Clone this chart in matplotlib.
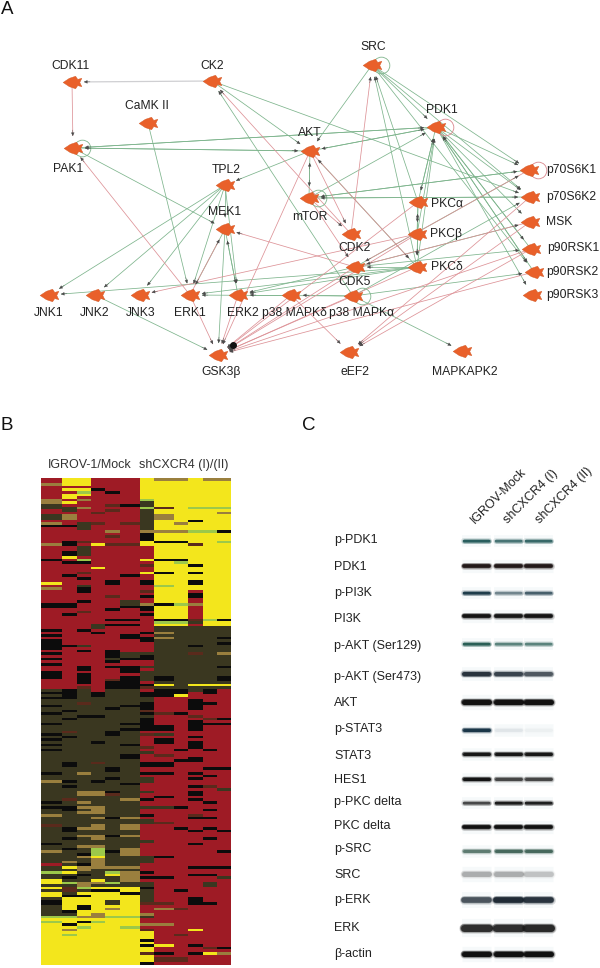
"""Three-panel figure: kinase network, expression heatmap, western blots."""

import matplotlib.pyplot as plt
import numpy as np
from matplotlib.colors import ListedColormap
from matplotlib.path import Path

plt.rcParams["font.family"] = ["Liberation Sans", "DejaVu Sans"]

# --- panel A: network, pixel positions
NODE_NAMES = ["CDK11", "CK2", "CaMK", "PAK1", "TPL2", "MEK1", "AKT", "SRC", "PDK1", "mTOR",
              "S6K1", "S6K2", "MSK", "RSK1", "RSK2", "RSK3", "PKCa", "PKCb", "PKCd", "CDK2",
              "CDK5", "JNK1", "JNK2", "JNK3", "ERK1", "ERK2", "p38d", "p38a", "GSK3b", "eEF2", "MK2"]
NODE_X = [72, 212, 148, 73, 225, 225, 310, 372, 436, 309,
          529, 530, 530, 531, 534, 532, 418, 417, 417, 351,
          355, 49, 95, 140, 190, 238, 291, 353, 218, 349, 462]
NODE_Y = [82, 81, 123, 148, 185, 229, 151, 65, 127, 198,
          170, 197, 222, 249, 272, 295, 202, 234, 267, 234,
          267, 295, 295, 295, 295, 295, 295, 296, 355, 352, 351]
LABELS = ["CDK11", "CK2", "CaMK II", "PAK1", "TPL2", "MEK1", "AKT", "SRC", "PDK1", "mTOR",
          "p70S6K1", "p70S6K2", "MSK", "p90RSK1", "p90RSK2", "p90RSK3", "PKCα", "PKCβ", "PKCδ", "CDK2",
          "CDK5", "JNK1", "JNK2", "JNK3", "ERK1", "ERK2", "p38 MAPKδ", "p38 MAPKα", "GSK3β", "eEF2", "MAPKAPK2"]
LABEL_X = [70, 212, 147, 68, 226, 225, 310, 373, 442, 310,
           546, 546, 546, 547, 546, 546, 431, 430, 431, 355,
           355, 49, 95, 141, 190, 243, 294, 362, 221, 355, 465]
LABEL_Y = [66, 66, 106, 169, 170, 212, 133, 47, 110, 217,
           170, 197, 222, 248, 272, 295, 204, 234, 267, 248,
           282, 313, 313, 313, 313, 313, 313, 313, 372, 372, 372]
LEFT_ALIGNED = {"S6K1", "S6K2", "MSK", "RSK1", "RSK2", "RSK3", "PKCa", "PKCb", "PKCd"}

GREY_EDGES = [("CK2", "CDK11")]
GREEN_EDGES = [
    ("CK2", "AKT"), ("CK2", "S6K2"), ("p38a", "CK2"), ("AKT", "PAK1"), ("PDK1", "PAK1"),
    ("PAK1", "AKT"), ("PAK1", "PDK1"), ("PAK1", "MEK1"), ("CaMK", "ERK1"), ("AKT", "TPL2"),
    ("TPL2", "JNK1"), ("TPL2", "JNK2"), ("TPL2", "JNK3"), ("TPL2", "MEK1"), ("TPL2", "ERK1"),
    ("TPL2", "ERK2"), ("MEK1", "ERK1"), ("MEK1", "ERK2"), ("MEK1", "GSK3b"), ("JNK2", "GSK3b"),
    ("PKCd", "JNK1"), ("PKCd", "ERK1"), ("PKCd", "ERK2"), ("SRC", "AKT"), ("PDK1", "AKT"),
    ("AKT", "PDK1"), ("mTOR", "PDK1"), ("SRC", "PDK1"), ("SRC", "S6K1"), ("SRC", "S6K2"),
    ("SRC", "RSK2"), ("PKCa", "SRC"), ("PKCd", "SRC"), ("PDK1", "PKCa"), ("PKCa", "PDK1"),
    ("PKCb", "PDK1"), ("PKCd", "PDK1"), ("PDK1", "S6K1"), ("PDK1", "S6K2"), ("PDK1", "MSK"),
    ("PDK1", "RSK1"), ("PDK1", "RSK2"), ("PDK1", "RSK3"), ("RSK1", "PDK1"), ("RSK2", "PDK1"),
    ("AKT", "mTOR"), ("mTOR", "AKT"), ("mTOR", "S6K1"), ("mTOR", "S6K2"), ("S6K2", "mTOR"),
    ("S6K1", "mTOR"), ("PKCd", "AKT"), ("PKCa", "PKCb"), ("PKCb", "PKCa"), ("PKCb", "PKCd"),
    ("PKCa", "PKCd"), ("PKCd", "CDK5"), ("CDK5", "RSK1"), ("CDK5", "MSK"), ("p38a", "RSK2"),
    ("p38a", "S6K2"), ("p38a", "MK2"), ("p38d", "ERK2"), ("p38a", "p38d"), ("p38a", "ERK1"),
    ("CDK5", "ERK2"), ("CDK5", "S6K1"), ("ERK2", "MEK1"),
]
RED_EDGES = [
    ("CDK11", "PAK1"), ("CDK2", "CK2"), ("ERK1", "PAK1"), ("ERK1", "MEK1"), ("ERK1", "GSK3b"),
    ("ERK2", "GSK3b"), ("p38d", "GSK3b"), ("p38a", "GSK3b"), ("CDK5", "GSK3b"), ("PKCd", "GSK3b"),
    ("PKCb", "GSK3b"), ("PKCa", "GSK3b"), ("RSK1", "GSK3b"), ("RSK2", "GSK3b"), ("AKT", "GSK3b"),
    ("CDK2", "SRC"), ("AKT", "CDK2"), ("mTOR", "CDK2"), ("AKT", "PKCd"), ("mTOR", "CDK5"),
    ("S6K1", "CDK5"), ("MSK", "CDK5"), ("PKCb", "JNK3"), ("CDK5", "MEK1"), ("p38d", "eEF2"),
    ("RSK1", "eEF2"), ("S6K2", "eEF2"), ("MSK", "eEF2"),
]
GREEN_LOOPS = ["PAK1", "SRC", "mTOR", "p38a"]
RED_LOOPS = ["PDK1", "S6K1"]

# --- panel B: heatmap, each column is "code + first row" runs over 187 rows
HEAT_CODES = "RYKDBGM"
HEAT_COLORS = ["#9e1b25", "#f3e61c", "#0c0c0c", "#3a3720", "#9a7f3e", "#9cc84a", "#5a2a1c"]
HEAT_EDGES = [41, 62, 77, 91, 105, 120, 140, 154, 174, 188, 203, 217, 231]
HEAT_COLUMNS = [
    "R0 B2 R3 B8 D10 R12 D14 R16 B17 K18 R19 B25 R26 K31 R32 Y40 R41 B42 R43 K48 R50 K58 R59 K60 R61 K62 R66 K67 R68 K69 R70 K71 R72 K74 R77 "
    "D81 K82 D83 K84 D85 K87 D88 K90 D91 K94 D95 K98 D99 K100 D101 K102 D103 K104 D105 K113 D114 B116 D117 K124 D125 K126 D127 B129 D130 M133 D134 "
    "K140 D141 B143 D144 R148 D149 G151 D152 Y154 D156 Y157 D158 Y159 D161 K162 D164 G168 Y169 G170 Y171",
    "Y0 R3 Y4 R5 Y6 R8 Y9 R10 D11 R13 B14 R16 K18 R19 K24 R26 K28 Y30 R31 K32 R33 K37 R38 K48 R50 K52 R53 K64 R65 "
    "K81 D85 K89 D90 K92 D93 M97 D98 K99 D100 K109 D111 K116 D117 K118 D119 M123 D124 K126 D128 K134 D136 K138 D139 K142 D143 "
    "B147 D148 Y149 D150 Y151 D152 K153 D154 G155 D156 M157 D159 K160 Y161 K166 D167 G168 Y169 K171 Y172 B173 Y174 G175 Y176",
    "Y0 R3 Y4 G5 Y6 R7 B8 R9 B11 R12 D17 R20 M24 R25 D26 R30 G31 K32 R33 M36 R37 K38 R39 D41 K42 R44 K47 R48 M51 R52 K58 R59 D64 R65 K66 R67 "
    "K72 R74 K75 R79 M80 D81 M86 D87 K91 D92 B113 D114 B120 D122 B124 D125 B126 D127 B128 D129 B134 D135 B137 D138 B141 D142 K144 B145 D146 K148 "
    "B149 D151 K152 D153 B155 G157 D158 Y159 K160 Y161 K164 Y166 B168 Y169 K170 Y171 G172 Y173",
    "R0 K4 R5 M13 R14 M17 R18 Y25 R26 Y34 R35 D56 R58 K59 R60 K82 D84 K91 D92 K101 D102 M109 D110 K116 D117 B120 D122 "
    "B126 D129 B130 D131 B133 D135 B137 D139 B141 G142 Y145 B146 D150 Y154 B155 D156 Y157 K158 Y159 B167 Y169 G170 Y171",
    "R0 K5 R6 M10 R11 M12 R13 B20 R21 M22 R23 M25 R26 K39 R41 M45 R46 K50 R51 K54 R55 K56 R57 K66 D69 K70 R71 K72 R73 M77 K78 D81 K88 D89 "
    "K97 D99 K111 D113 K115 D116 K120 M121 D122 K130 D131 K137 D138 K143 D144 B149 D150 G151 Y152 D153 G155 D156 Y157 K158 Y159 D162 Y164 B165 Y166 G168 Y169",
    "R0 K10 R11 M17 R18 M25 R26 K37 R38 D47 K49 R50 K54 R55 K56 R57 K60 R62 D67 K69 R70 K72 R75 K76 D81 K87 D88 K94 D95 K96 D97 K102 D103 K106 D108 "
    "K117 D118 B123 D124 B130 D131 B133 D135 B137 D138 B142 D145 B149 D150 B151 D155 Y157 K159 Y160 G168 Y169 G172 Y173",
    "Y0 G8 D9 G11 D12 B20 K21 Y24 R26 Y31 R32 M33 R34 Y36 R37 K39 R41 M43 R44 K45 R46 B48 K49 R51 K52 R53 K59 R60 K61 R63 D67 K68 R70 D72 R73 D74 R78 K79 M80 R81 "
    "K82 D84 K86 M89 K90 D91 K92 R97 M98 R99 M103 R104 D105 R106 K109 R111 K113 R114 D115 R117 D120 R121 K123 R124 D126 R127 K129 R130 D131 R133 "
    "D139 R140 D145 R148 K151 R152 K153 R154 D155 K157 D158 M163 R164 B167 D168 R169 B171 R172 M173 Y174 K177 Y178 K179 Y180 M182 Y183 K186",
    "B0 Y1 M11 Y12 B14 Y16 B20 Y21 K24 Y25 K31 Y32 K36 Y37 G41 Y42 K48 Y49 K54 G55 Y56 D57 B59 D60 B61 D62 K76 D78 Y79 D80 K81 R84 "
    "M90 R91 K95 R97 D98 R99 K100 R102 M106 R107 K109 R111 K113 R114 K122 R123 D126 R127 M132 R133 K145 R146 K153 R154 M163 R164 B165 R166 B171 R172 Y179 R180 K182 R183 M184 R186",
    "B0 Y1 B17 Y18 B20 Y21 K24 Y25 K31 G32 Y33 G48 Y49 K54 G55 Y56 D57 K81 Y83 R84 K90 R91 K104 R105 K108 R109 K126 R127 K134 R135 K158 R159 M165 R166 M175 R176 M184 R186",
    "Y0 G11 Y12 K16 Y17 G20 Y21 M25 Y26 K33 Y34 K36 Y37 K39 Y41 R43 K44 R46 B48 R49 M54 D55 R56 D57 K64 D65 M67 D68 Y79 D80 R82 K85 R89 M91 R92 K93 R97 K99 R100 "
    "K101 R104 K107 R109 K113 R114 K115 R116 K118 R119 K120 R122 K123 R124 M129 K130 R131 K135 R136 K140 R141 K149 R150 K152 R153 K161 R164 Y173 R174 K179 R180 K182 R183",
    "B0 Y1 G11 Y12 G20 Y21 G54 Y55 D57 Y79 D80 K81 R83 K86 R87 M92 R93 K94 R95 K104 R105 K111 R112 K114 R115 M118 R119 K124 R125 K127 R128 K130 R131 K134 R135 "
    "K138 R139 K149 R150 K152 R153 D155 R157 K163 R164 M180 R181 Y182 R183",
    "B0 Y1 G11 Y12 B13 Y14 K20 Y21 G24 Y25 K54 Y55 D57 K61 D62 K63 D64 B67 D68 K72 D73 K76 D78 Y79 D80 R81 K92 R93 K94 R95 K111 R112 D119 R120 K135 R136 K143 R144 K149 R150 D153 R154 K180 R181 B182 R183",
]
HEAT_ROWS = 187

# --- panel C: blots, darkness per lane for each antibody
BLOT_LABELS = ["p-PDK1", "PDK1", "p-PI3K", "PI3K", "p-AKT (Ser129)", "p-AKT (Ser473)", "AKT", "p-STAT3", "STAT3",
               "HES1", "p-PKC delta", "PKC delta", "p-SRC", "SRC", "p-ERK", "ERK", "β-actin"]
LABEL_ROW_Y = [540, 567, 593, 619, 646, 677, 703, 729, 756, 780, 802, 826, 849, 875, 900, 928, 954]
BAND_Y = [541, 566, 593, 616, 644, 674, 702, 730, 754, 779, 803, 827, 851, 874, 900, 928, 954]
BAND_DARK = [[0.8, 0.6, 0.7], [1.0, 1.0, 1.0], [0.9, 0.4, 0.6], [1.0, 0.95, 1.0], [0.8, 0.5, 0.5], [0.9, 0.75, 0.6],
             [1.0, 1.0, 1.0], [0.95, 0.05, 0.02], [0.95, 0.95, 0.95], [1.0, 0.6, 0.6], [0.6, 0.95, 0.9], [1.0, 1.0, 1.0],
             [0.55, 0.7, 0.7], [0.3, 0.3, 0.2], [0.6, 0.95, 0.85], [0.85, 0.85, 0.9], [1.0, 1.0, 1.0]]
BAND_THICK = [2.5, 3.5, 2.5, 3.5, 2.5, 4, 5, 3, 3, 3, 2.5, 3.5, 3, 5, 5.5, 7, 5]
BAND_INK = ["#0f4a4a", "#1c1212", "#10303f", "#0c0c0c", "#0f4a40", "#1a2530", "#0a0a0a", "#0f2c3f", "#0c0c0c",
            "#0c0c0c", "#101010", "#0a0a0a", "#224a3c", "#555555", "#15202b", "#1a1a1a", "#0a0a0a"]
LANE_LEFT = [464, 496, 526]
LANE_RIGHT = [489, 521, 551]
LANE_TITLES = ["IGROV-Mock", "shCXCR4 (I)", "shCXCR4 (II)"]
LANE_TITLE_X = [473, 506, 538]

fig = plt.figure(figsize=(6, 9.68), dpi=100)
ax = fig.add_axes([0, 0, 1, 1])
ax.set_xlim(0, 600)
ax.set_ylim(968, 0)
ax.axis("off")

# network
pos = {n: np.array([x, y], float) for n, x, y in zip(NODE_NAMES, NODE_X, NODE_Y)}


def draw_edge(a, b, color, lw):
    start, end = pos[a], pos[b]
    unit = (end - start) / np.linalg.norm(end - start)
    tip = end - unit * 12
    ax.plot([start[0], tip[0]], [start[1], tip[1]], color=color, lw=lw, zorder=2, solid_capstyle="butt")
    ax.annotate("", xy=tip, xytext=tip - unit * 6, zorder=3,
                arrowprops=dict(arrowstyle="-|>", color="#4a4a4a", lw=0.3, mutation_scale=5, shrinkA=0, shrinkB=0))


for a, b in GREY_EDGES:
    draw_edge(a, b, "#cfcfd2", 0.9)
for a, b in GREEN_EDGES:
    draw_edge(a, b, "#7db48c", 0.55)
for a, b in RED_EDGES:
    draw_edge(a, b, "#dd9297", 0.55)

for names, color in ((GREEN_LOOPS, "#7fb58c"), (RED_LOOPS, "#d9868c")):
    for n in names:
        ax.plot(pos[n][0] + 9, pos[n][1], "o", ms=12, mfc="none", mec=color, mew=0.6, zorder=2)

# heads pile up into a dark blot where the red edges reach GSK3b
ax.plot(pos["GSK3b"][0] + 15, pos["GSK3b"][1] - 10, "o", ms=4, color="#111111", zorder=3)

fish = Path([(-9, 0), (-3, -4), (3, -6), (5, -3), (9, -4), (7, 0), (9, 4), (5, 3), (3, 6), (-3, 4), (-9, 0)], closed=True)
ax.plot(NODE_X, NODE_Y, ls="none", marker=fish, ms=13.5, mfc="#e9602a", mec="#d05a28", mew=0.3, zorder=4)

for n, label, x, y in zip(NODE_NAMES, LABELS, LABEL_X, LABEL_Y):
    ax.text(x, y, label, fontsize=8.7, color="#222222", va="center",
            ha="left" if n in LEFT_ALIGNED else "center", zorder=5)

# heatmap
heat = np.zeros((HEAT_ROWS, len(HEAT_COLUMNS)), dtype=int)
for c, runs in enumerate(HEAT_COLUMNS):
    tokens = runs.split()
    starts = [int(t[1:]) for t in tokens] + [HEAT_ROWS]
    for i, t in enumerate(tokens):
        heat[starts[i]:starts[i + 1], c] = HEAT_CODES.index(t[0])
row_edges = np.linspace(478, 965, HEAT_ROWS + 1)
ax.pcolormesh(HEAT_EDGES, row_edges, heat, cmap=ListedColormap(HEAT_COLORS), vmin=0, vmax=len(HEAT_COLORS) - 1)
ax.set_xlim(0, 600)
ax.set_ylim(968, 0)

# blots
for i, y in enumerate(BAND_Y):
    for left, right, dark in zip(LANE_LEFT, LANE_RIGHT, BAND_DARK[i]):
        t = BAND_THICK[i]
        ax.plot([left - 2, right + 2], [y, y], color="#b9d4dc", alpha=0.12, lw=t + 6, solid_capstyle="butt")
        for width, a in ((t + 3.5, 0.18), (t + 2, 0.3), (t + 0.8, 0.45), (t, 0.9)):
            ax.plot([left, right], [y, y], color=BAND_INK[i], alpha=a * dark, lw=width * 0.72,
                    solid_capstyle="round")

for label, y in zip(BLOT_LABELS, LABEL_ROW_Y):
    ax.text(334, y, label, fontsize=9, color="#222222", va="center", ha="left")
for title, x in zip(LANE_TITLES, LANE_TITLE_X):
    ax.text(x, 522, title, fontsize=9, color="#222222", rotation=45, rotation_mode="anchor", ha="left", va="center")

ax.text(48, 465, "IGROV-1/Mock", fontsize=9, color="#333333", va="center")
ax.text(139, 465, "shCXCR4 (I)/(II)", fontsize=9, color="#333333", va="center")

ax.text(1, 9, "A", fontsize=13.5, color="#111111", va="center")
ax.text(1, 426, "B", fontsize=13.5, color="#111111", va="center")
ax.text(302, 426, "C", fontsize=13.5, color="#111111", va="center")

fig.savefig("out.png", dpi=100)
